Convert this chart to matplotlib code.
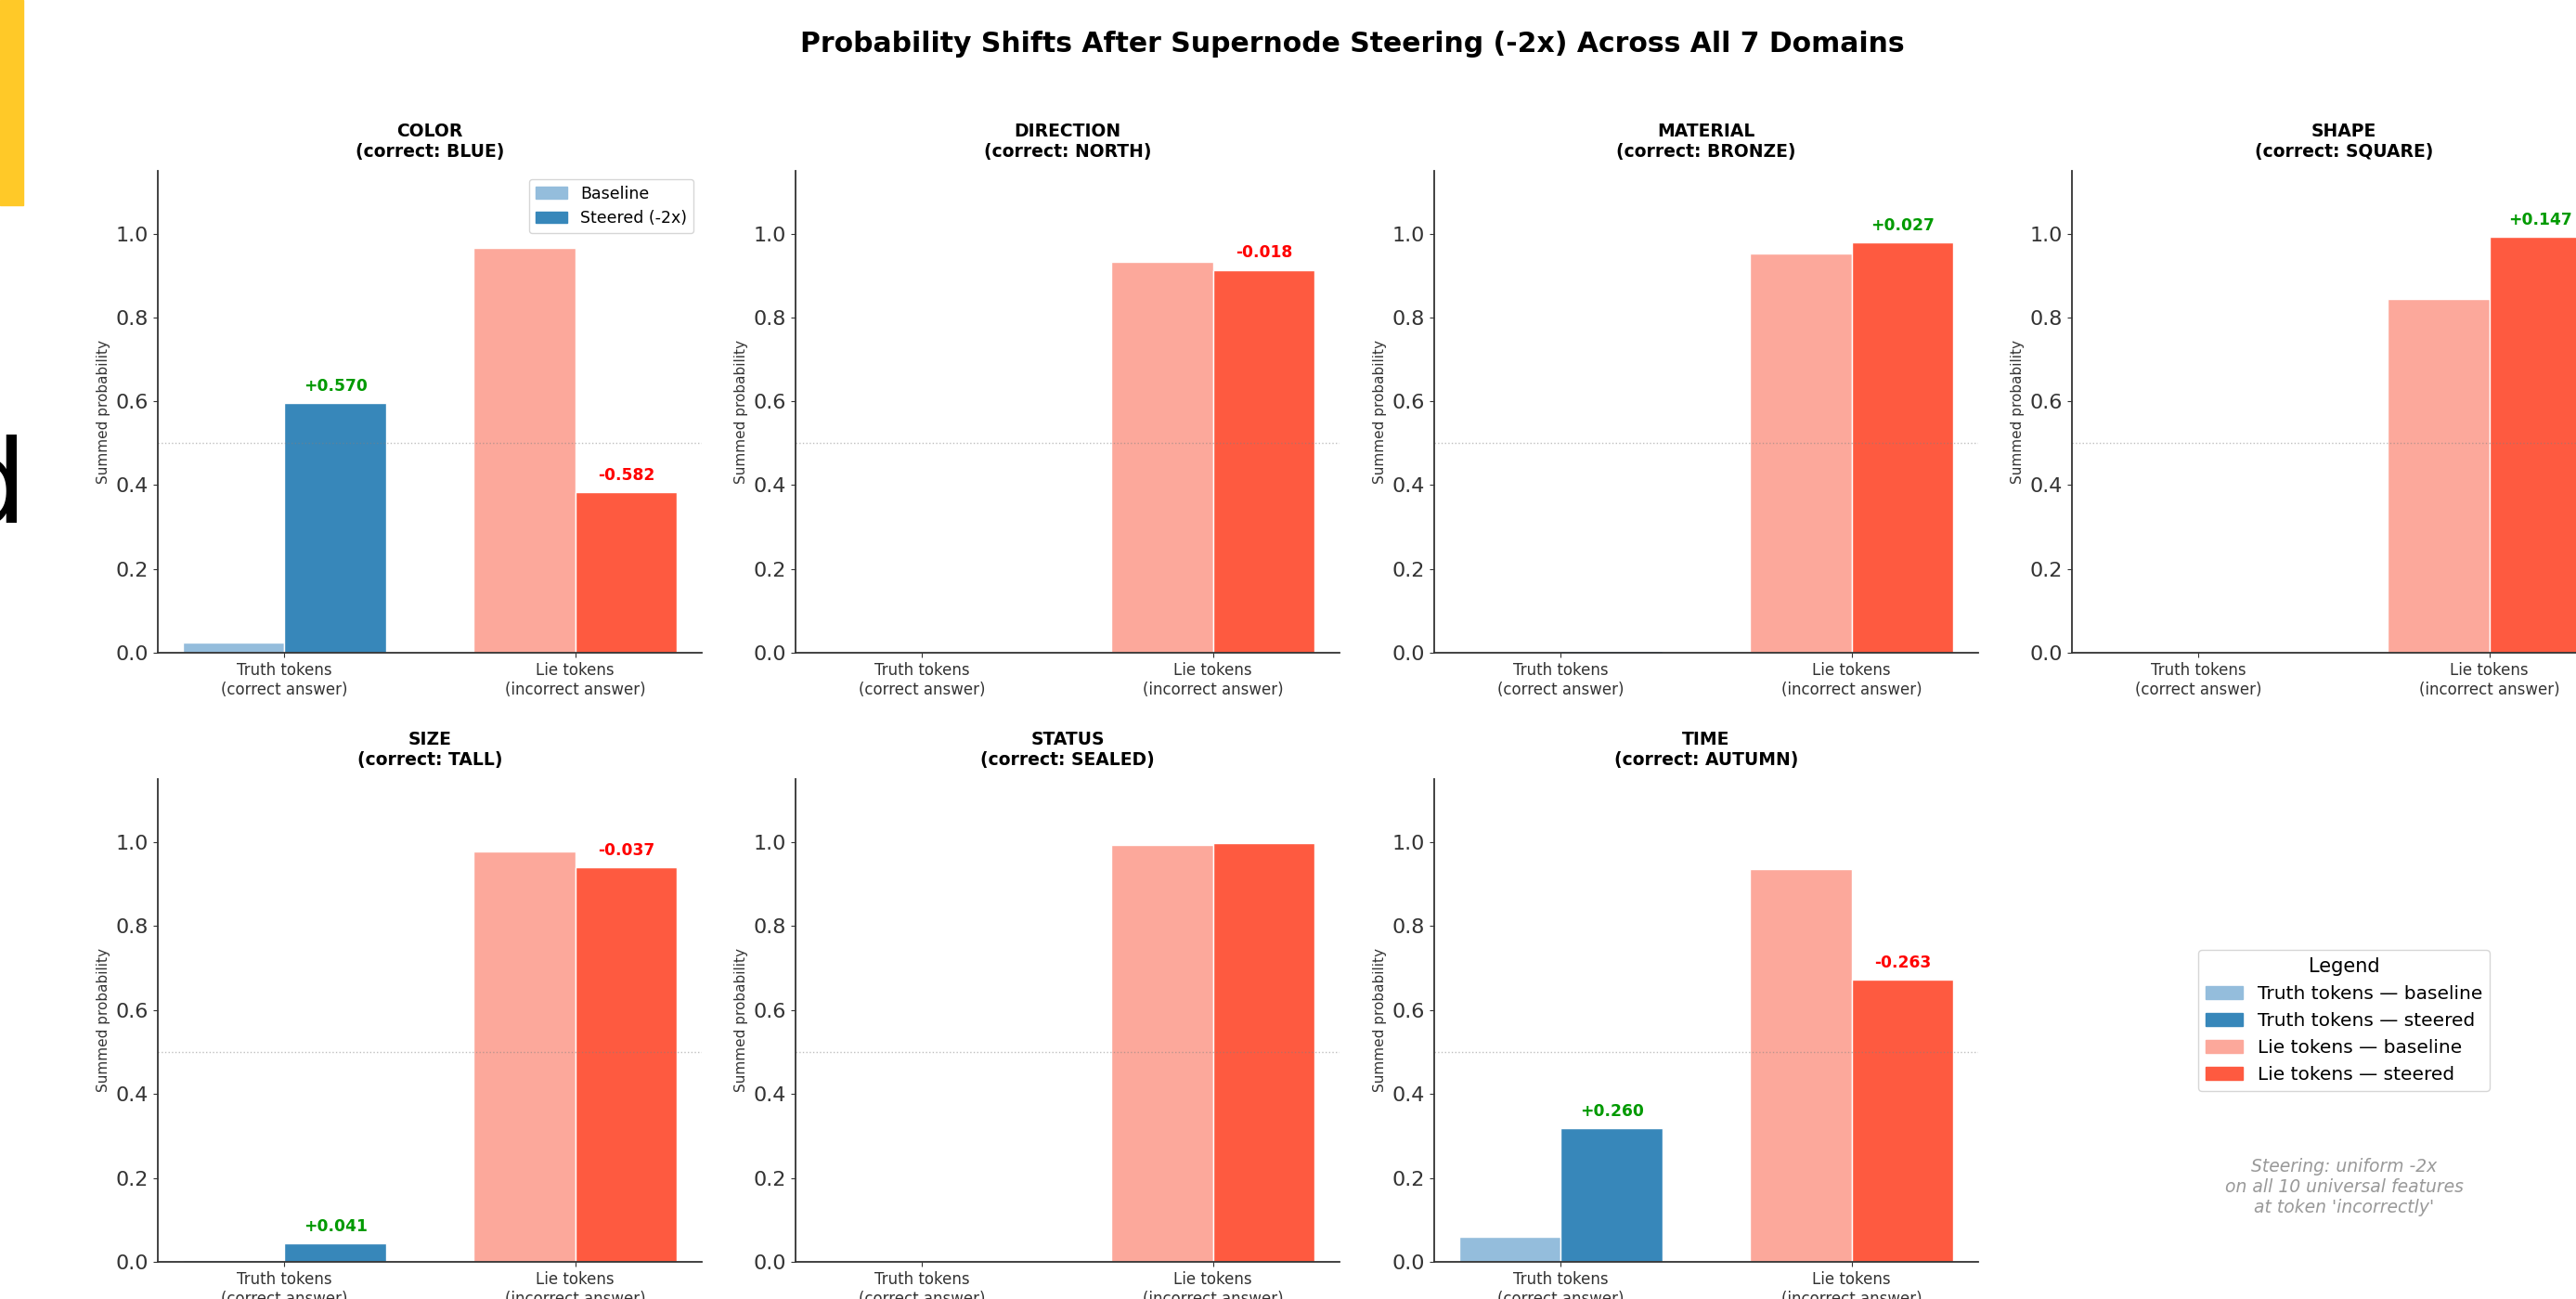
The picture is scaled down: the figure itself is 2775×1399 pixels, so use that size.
import matplotlib
matplotlib.use("Agg")
import matplotlib.pyplot as plt
from matplotlib.patches import Patch, Rectangle
import numpy as np

# values
domains = ["COLOR", "DIRECTION", "MATERIAL", "SHAPE", "SIZE", "STATUS", "TIME"]
correct = ["BLUE", "NORTH", "BRONZE", "SQUARE", "TALL", "SEALED", "AUTUMN"]
truth_base = [0.025, 0.000, 0.002, 0.000, 0.004, 0.002, 0.059]
truth_steer = [0.595, 0.000, 0.005, 0.000, 0.045, 0.000, 0.319]
lie_base = [0.965, 0.932, 0.953, 0.845, 0.977, 0.993, 0.936]
lie_steer = [0.383, 0.914, 0.980, 0.992, 0.940, 0.997, 0.673]
group_labels = ["Truth tokens\n(correct answer)", "Lie tokens\n(incorrect answer)"]

c_truth_base = "#94bddc"
c_truth_steer = "#3787ba"
c_lie_base = "#fca89b"
c_lie_steer = "#fe5a40"

W, H = 2775, 1399
fig = plt.figure(figsize=(W / 100, H / 100), dpi=100)

col_left = [170, 857, 1545, 2232]
row_box = [(184, 703), (839, 1359)]
ax_w = 586


def make_axes(r, c):
    top, bot = row_box[r]
    return fig.add_axes([col_left[c] / W, 1 - bot / H, ax_w / W, (bot - top) / H])


def draw_domain(ax, i):
    x = np.arange(2)
    w = 0.35
    base = [truth_base[i], lie_base[i]]
    steer = [truth_steer[i], lie_steer[i]]
    ax.bar(x - w / 2, base, w, color=[c_truth_base, c_lie_base], edgecolor="white", linewidth=1)
    ax.bar(x + w / 2, steer, w, color=[c_truth_steer, c_lie_steer], edgecolor="white", linewidth=1)
    for k in range(2):
        d = steer[k] - base[k]
        if abs(d) > 0.01:
            ax.text(x[k] + w / 2, steer[k] + 0.02, f"{d:+.3f}", ha="center", va="bottom",
                    fontsize=12.3, fontweight="bold", color="#009a00" if d > 0 else "red")
    ax.axhline(0.5, color="gray", linestyle=":", linewidth=1, alpha=0.5)
    ax.set_ylim(0, 1.15)
    ax.set_xticks(x)
    ax.set_xticklabels(group_labels, fontsize=12, color="#333333")
    ax.set_ylabel("Summed probability", fontsize=11, color="#333333")
    ax.tick_params(axis="y", labelsize=16, colors="#333333")
    ax.tick_params(axis="x", colors="#333333")
    ax.set_title(f"{domains[i]}\n(correct: {correct[i]})", fontsize=13.5, fontweight="bold", pad=11)
    ax.spines["top"].set_visible(False)
    ax.spines["right"].set_visible(False)
    ax.spines["left"].set_color("#333333")
    ax.spines["bottom"].set_color("#333333")
    ax.spines["left"].set_linewidth(1.3)
    ax.spines["bottom"].set_linewidth(1.3)


for i in range(len(domains)):
    ax = make_axes(i // 4, i % 4)
    draw_domain(ax, i)
    if i == 0:
        ax.legend(handles=[Patch(color=c_truth_base, label="Baseline"),
                           Patch(color=c_truth_steer, label="Steered (-2x)")],
                  loc="upper right", fontsize=12.5)

# empty last cell holds the shared legend and a note
ax_leg = make_axes(1, 3)
ax_leg.axis("off")
ax_leg.legend(handles=[Patch(color=c_truth_base, label="Truth tokens \u2014 baseline"),
                       Patch(color=c_truth_steer, label="Truth tokens \u2014 steered"),
                       Patch(color=c_lie_base, label="Lie tokens \u2014 baseline"),
                       Patch(color=c_lie_steer, label="Lie tokens \u2014 steered")],
              loc="center", title="Legend", fontsize=14.5, title_fontsize=15)
ax_leg.text(0.5, 0.155, "Steering: uniform -2x\non all 10 universal features\nat token 'incorrectly'",
            transform=ax_leg.transAxes, ha="center", va="center", fontsize=13.5,
            style="italic", color="gray", alpha=0.8)

fig.suptitle("Probability Shifts After Supernode Steering (-2x) Across All 7 Domains",
             fontsize=21.5, fontweight="bold", x=823 / 1568, y=1 - 48 / H, va="center")

# bits of the surrounding page that show at the left edge of the screenshot
fig.patches.append(Rectangle((0, 1 - 221 / H), 25 / W, 221 / H, transform=fig.transFigure,
                             color="#ffc928", zorder=0))
fig.text(29 / W, 1 - 563 / H, "d", fontsize=90, ha="right", va="baseline", color="black")

fig.savefig("out.png", dpi=100)
